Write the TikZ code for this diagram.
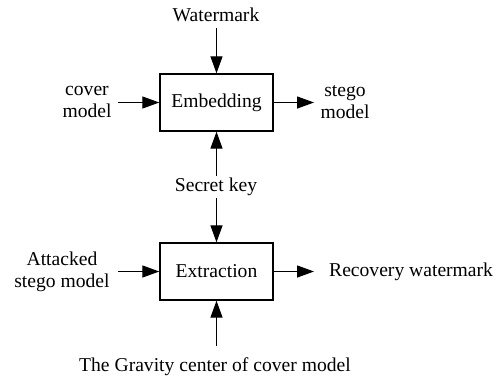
\documentclass[tikz,border=0pt]{standalone}
\usepackage{fontspec}
\setmainfont{Liberation Serif}
\usetikzlibrary{arrows.meta}
\begin{document}
\begin{tikzpicture}[x=1pt,y=-1pt,
  every node/.style={font=\fontsize{19.6}{22}\selectfont, inner sep=3pt},
  procbox/.style={draw, line width=1.4pt, minimum width=113pt, minimum height=57pt},
  flow/.style={line width=1.3pt, -{Triangle[length=17pt,width=12pt]}}]
\useasboundingbox (0,0) rectangle (499,381);
\node[procbox] (emb) at (216.5,102.5) {Embedding};
\node[procbox] (ext) at (216.5,271.5) {Extraction};
\node (wm) at (216,15) {Watermark};
\node[align=center] (cov) at (87,102) {cover\\model};
\node[align=center] (stg) at (345,102) {stego\\model};
\node (key) at (216,187) {Secret key};
\node[align=center] (att) at (62,272) {Attacked\\stego model};
\node[anchor=west] (rec) at (326,272) {Recovery watermark};
\node (grav) at (215,367) {The Gravity center of cover model};
\coordinate (embin) at (118,102.5);
\coordinate (embout) at (314,102.5);
\coordinate (extin) at (118,271.5);
\coordinate (extout) at (314,271.5);
\coordinate (keytop) at (216.5,176);
\coordinate (keybot) at (216.5,198);
\coordinate (gravtop) at (216.5,346);
\coordinate (wmbot) at (216.5,28);
\draw[flow] (wmbot) -- (emb.north);
\draw[flow] (embin) -- (emb.west);
\draw[flow] (emb.east) -- (embout);
\draw[flow] (keytop) -- (emb.south);
\draw[flow] (keybot) -- (ext.north);
\draw[flow] (extin) -- (ext.west);
\draw[flow] (ext.east) -- (extout);
\draw[flow] (gravtop) -- (ext.south);
\end{tikzpicture}
\end{document}
